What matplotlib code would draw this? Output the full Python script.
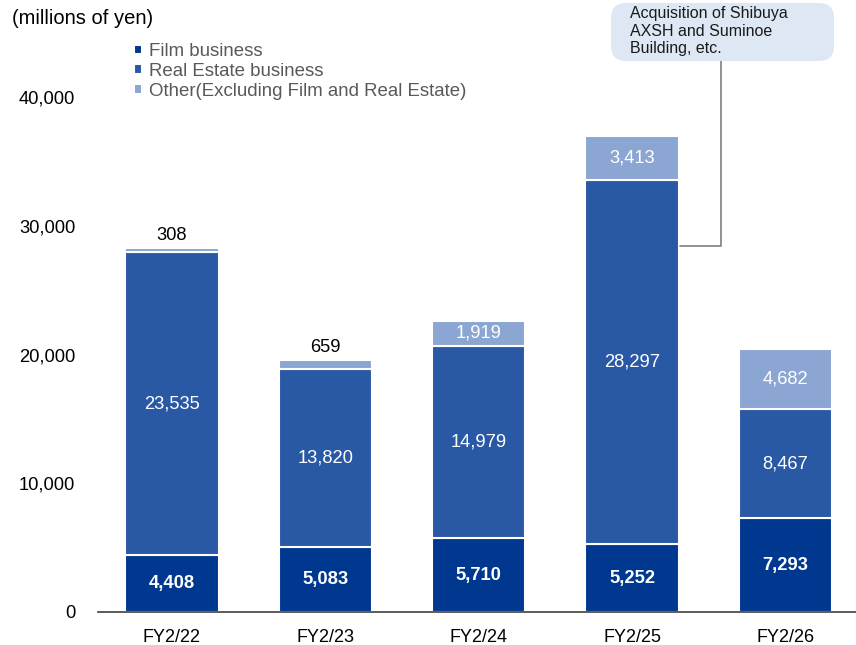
import matplotlib.pyplot as plt
from matplotlib.patches import FancyBboxPatch
import numpy as np

plt.rcParams['font.family'] = ['Liberation Sans', 'DejaVu Sans']

years = ["FY2/22", "FY2/23", "FY2/24", "FY2/25", "FY2/26"]
film = [4408, 5083, 5710, 5252, 7293]
real_estate = [23535, 13820, 14979, 28297, 8467]
other = [308, 659, 1919, 3413, 4682]

series = [
    ("Film business", film, "#00388F"),
    ("Real Estate business", real_estate, "#2958A5"),
    ("Other(Excluding Film and Real Estate)", other, "#8BA6D2"),
]

fig = plt.figure(figsize=(8.56, 6.45), dpi=100)
ax = fig.add_axes([0.114, 0.0512, 0.886, 0.898])

x = np.arange(len(years))
width = 0.61
bottom = np.zeros(len(years))
handles = []
for i, (name, vals, color) in enumerate(series):
    vals = np.array(vals, dtype=float)
    bars = ax.bar(x, vals, width, bottom=bottom, color=color,
                  edgecolor="white", linewidth=1.5, label=name)
    handles.append(bars)
    for xi, b, v in zip(x, bottom, vals):
        if i == 2 and v < 1000:
            ax.text(xi, b + v + 350, f"{int(v):,}", ha="center", va="bottom",
                    fontsize=13.2, color="black")
        else:
            ax.text(xi, b + v / 2, f"{int(v):,}", ha="center", va="center",
                    fontsize=13.2, color="white",
                    fontweight="bold" if i == 0 else "normal")
    bottom += vals

ax.set_xlim(-0.485, 4.46)
ax.set_ylim(0, 45000)
ax.set_xticks(x)
ax.set_xticklabels(years, fontsize=13)
ax.set_yticks([0, 10000, 20000, 30000, 40000])
ax.set_yticklabels([f"{v:,}" for v in [0, 10000, 20000, 30000, 40000]], fontsize=13.2)
for s in ["top", "right", "left"]:
    ax.spines[s].set_visible(False)
ax.spines["bottom"].set_color("#404040")
ax.spines["bottom"].set_linewidth(1.2)
ax.tick_params(axis="both", length=0)
ax.tick_params(axis="x", pad=12)
ax.tick_params(axis="y", pad=16)

fig.text(12 / 856, 1 - 18 / 645, "(millions of yen)", fontsize=14.5,
         va="center", ha="left")

leg = fig.legend(handles=handles, loc="upper left",
                 bbox_to_anchor=(125 / 856, 1 - 34 / 645), frameon=False,
                 fontsize=13.4, handlelength=0.42, handleheight=0.42,
                 handletextpad=0.35, labelspacing=0.14, borderpad=0,
                 labelcolor="#595959")

# annotation box
box = FancyBboxPatch((611, 645 - 61), 223, 58,
                     boxstyle="round,pad=0,rounding_size=15",
                     transform=None, facecolor="#DDE8F4", edgecolor="none")
fig.patches.append(box)
fig.text(630 / 856, 1 - 6 / 645,
         "Acquisition of Shibuya\nAXSH and Suminoe\nBuilding, etc.",
         fontsize=11.5, ha="left", va="top", linespacing=1.22, color="#1a1a1a")
ax.annotate("", xy=(3 + width / 2 + 0.01, 28400),
            xytext=(721 / 856, 1 - 61 / 645), textcoords="figure fraction",
            arrowprops=dict(arrowstyle="-", color="#7f7f7f", lw=1.2,
                            shrinkA=0, shrinkB=0,
                            connectionstyle="angle,angleA=90,angleB=0,rad=0"))

fig.savefig("out.png", dpi=100)
